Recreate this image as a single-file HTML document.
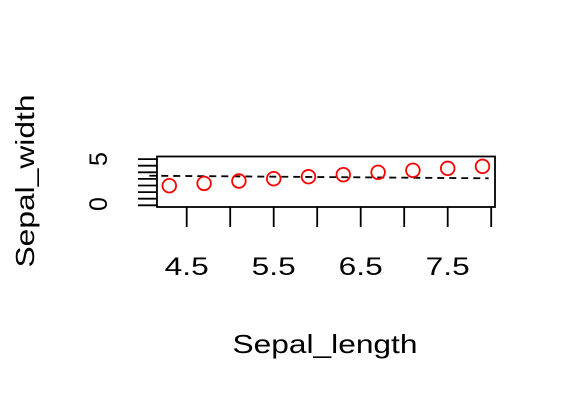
<!DOCTYPE html>
<html><head><meta charset="utf-8"><style>
body{margin:0;background:#fff}
svg{display:block;font-family:"Liberation Sans",sans-serif}
</style></head><body>
<svg id="chart" width="576" height="403" viewBox="0 0 576 403"></svg>
<script>
const xValues=[4.3,4.7,5.1,5.5,5.9,6.3,6.7,7.1,7.5,7.9];
const yValues=[2.97,3.32,3.68,4.03,4.33,4.64,5.0,5.3,5.6,5.9];
const xTicks=[4.5,5.0,5.5,6.0,6.5,7.0,7.5,8.0];
const xTickLabels=["4.5","5.5","6.5","7.5"];
const yTicks=[0,1,2,3,4,5,6,7];
const yTickLabels=["0","5"];
const refLine=[[4.07,4.48],[7.97,4.09]];
const NS="http://www.w3.org/2000/svg";
const svg=document.getElementById('chart');
const sx=v=>186.7+(v-4.5)*87;
const sy=v=>205.3-v*6.6;
function mk(t,a){const e=document.createElementNS(NS,t);for(const k in a)e.setAttribute(k,a[k]);svg.appendChild(e);return e;}
let box=mk('rect',{x:157,y:156.5,width:338,height:50.5,fill:'none',stroke:'#000','stroke-width':1.8});


xTicks.forEach(v=>{const l=mk('line',{x1:sx(v),x2:sx(v),y1:207,y2:227,stroke:'#000','stroke-width':1.8});

});
xTickLabels.forEach(s=>{const t=mk('text',{x:sx(parseFloat(s)),y:275,'font-size':25,'text-anchor':'middle',textLength:44,lengthAdjust:'spacingAndGlyphs'});t.textContent=s;

});
yTicks.forEach(v=>{const l=mk('line',{x1:138,x2:157,y1:sy(v),y2:sy(v),stroke:'#000','stroke-width':1.8});

});
const yLabelPos=[204,159];
yTickLabels.forEach((s,i)=>{const y=yLabelPos[i];const t=mk('text',{x:107,y:y,'font-size':25,'text-anchor':'middle',transform:`rotate(-90 107 ${y})`});t.textContent=s;

});
let rl=mk('line',{x1:sx(refLine[0][0]),y1:sy(refLine[0][1]),x2:sx(refLine[1][0]),y2:sy(refLine[1][1]),stroke:'#000','stroke-width':1.8,'stroke-dasharray':'7,5'});


xValues.forEach((x,i)=>{const c=mk('circle',{cx:sx(x),cy:sy(yValues[i]),r:6.8,fill:'none',stroke:'#f00','stroke-width':1.8});

});
let xt=mk('text',{x:325,y:353,'font-size':26,'text-anchor':'middle',textLength:185,lengthAdjust:'spacingAndGlyphs'});xt.textContent='Sepal_length';


let yt=mk('text',{x:34,y:181,'font-size':26,'text-anchor':'middle',transform:'rotate(-90 34 181)',textLength:173,lengthAdjust:'spacingAndGlyphs'});yt.textContent='Sepal_width';


</script>
</body></html>
